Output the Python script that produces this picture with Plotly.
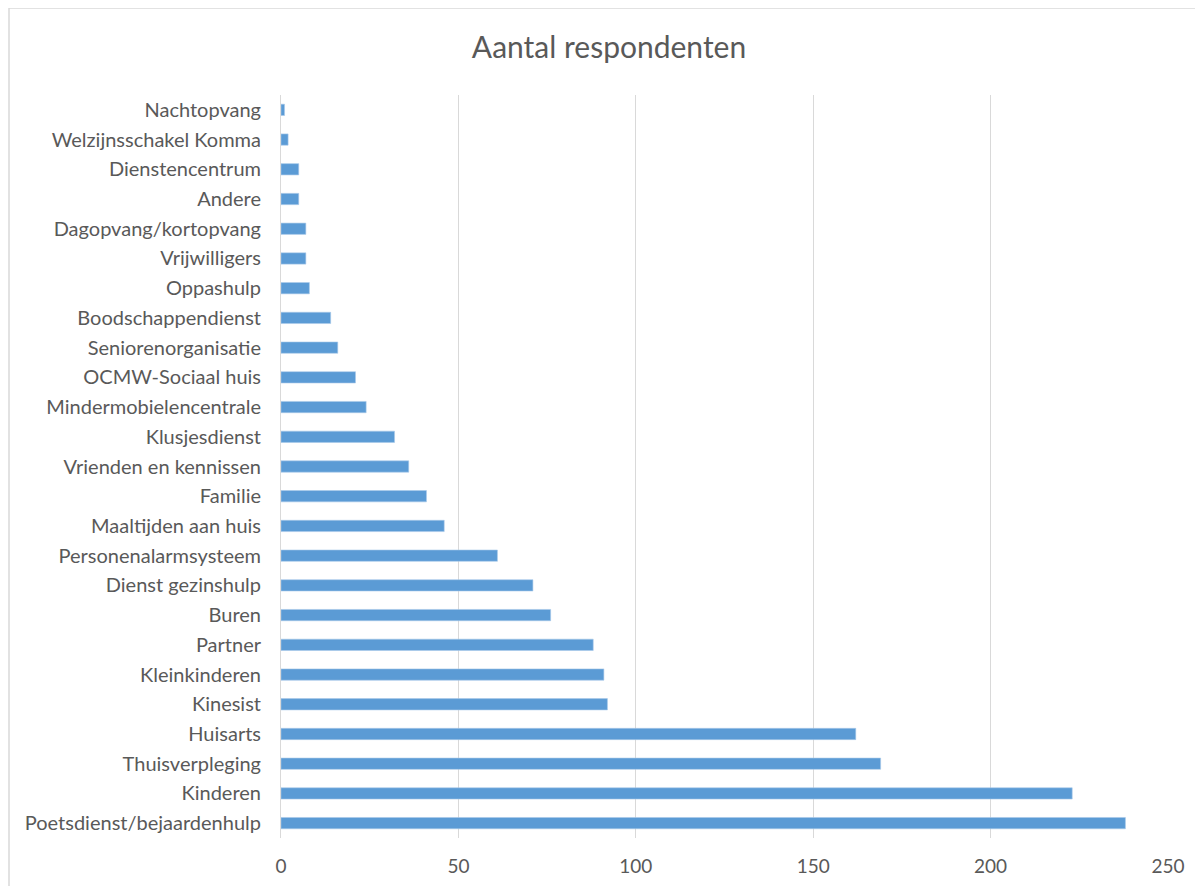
import plotly.graph_objects as go

# categories listed bottom -> top, as they appear on the chart
categories = [
    "Poetsdienst/bejaardenhulp", "Kinderen", "Thuisverpleging", "Huisarts",
    "Kinesist", "Kleinkinderen", "Partner", "Buren", "Dienst gezinshulp",
    "Personenalarmsysteem", "Maaltijden aan huis", "Familie",
    "Vrienden en kennissen", "Klusjesdienst", "Mindermobielencentrale",
    "OCMW-Sociaal huis", "Seniorenorganisatie", "Boodschappendienst",
    "Oppashulp", "Vrijwilligers", "Dagopvang/kortopvang", "Andere",
    "Dienstencentrum", "Welzijnsschakel Komma", "Nachtopvang",
]
respondenten = [238, 223, 169, 162, 92, 91, 88, 76, 71, 61, 46, 41,
                36, 32, 24, 21, 16, 14, 8, 7, 7, 5, 5, 2, 1]
x_ticks = [0, 50, 100, 150, 200, 250]

# the page body has an 8px margin, so the figure is drawn 8px in from the edge
OFF = 8
W, H = 1203 - OFF, 886 - OFF
L, T = 281 - OFF, 95 - OFF
R = W - (1168 - OFF)
B = H - (838 - OFF)
pw, ph = W - L - R, H - T - B

def px(x):
    # page pixel -> paper coordinate
    return (x - OFF - L) / pw

def py(y):
    return (H - B - (y - OFF)) / ph

font = "Lato, 'Open Sans', sans-serif"
grey = "#595959"

trace = go.Bar(
    x=respondenten,
    y=categories,
    orientation="h",
    marker=dict(color="#5B9BD5", line=dict(color="#A9C9EA", width=0.6)),
    width=0.38,
    hoverinfo="x+y",
)

fig = go.Figure(data=[trace])
fig.update_layout(
    width=W, height=H,
    margin=dict(l=L, r=R, t=T, b=B, pad=0),
    paper_bgcolor="white",
    plot_bgcolor="white",
    showlegend=False,
    title=dict(text="Aantal respondenten", xref="container", x=(609 - OFF) / W,
               xanchor="center", y=1 - (47 - OFF) / H, yanchor="middle",
               font=dict(family=font, size=30, color=grey)),
    font=dict(family=font, size=20, color=grey),
    xaxis=dict(range=[0, 250], tickvals=x_ticks, showgrid=True,
               gridcolor="#D9D9D9", gridwidth=1, zeroline=False,
               showline=False, ticks="", tickfont=dict(size=19, color=grey),
               ticklabelstandoff=15, automargin=False, fixedrange=True),
    yaxis=dict(categoryorder="array", categoryarray=categories,
               range=[-0.5, len(categories) - 0.5],
               showgrid=False, zeroline=False, showline=True,
               linecolor="#D9D9D9", linewidth=1, ticks="",
               ticklabelstandoff=15, tickfont=dict(size=20, color=grey),
               automargin=False, fixedrange=True),
    shapes=[dict(type="rect", xref="paper", yref="paper",
                 x0=px(9), x1=px(1220), y0=py(900), y1=py(8),
                 line=dict(color="#D9D9D9", width=1.5), fillcolor="rgba(0,0,0,0)",
                 layer="below")],
)

fig.write_html("out.html")
